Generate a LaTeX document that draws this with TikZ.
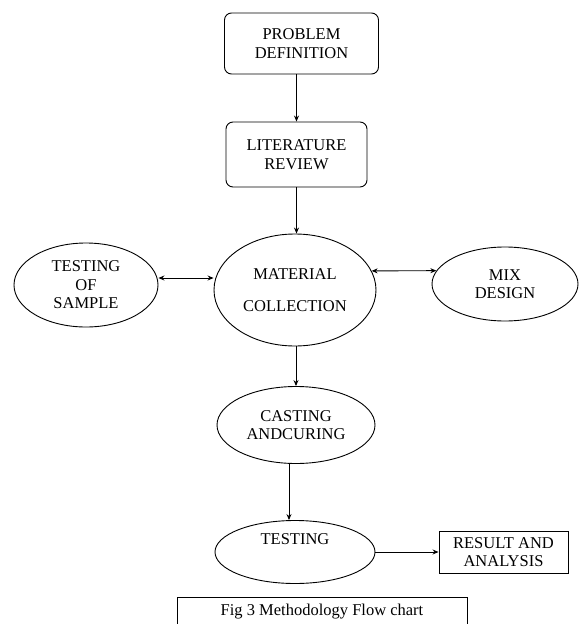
\documentclass[tikz,border=0pt]{standalone}
\usepackage{fontspec}
\setmainfont{Liberation Serif}
\usetikzlibrary{arrows.meta,shapes.geometric}
\tikzset{
  stepbox/.style={draw, rounded corners=7pt, line width=0.9pt, align=center, inner sep=0pt},
  oval/.style={draw, ellipse, line width=0.9pt, align=center, inner sep=0pt},
  flow/.style={line width=0.9pt, -{Stealth[length=6pt,width=5pt]}},
  both/.style={line width=0.9pt, {Stealth[length=6pt,width=5pt]}-{Stealth[length=6pt,width=5pt]}}
}
\begin{document}
\begin{tikzpicture}[x=1pt, y=-1pt, font=\fontsize{16.5}{18.5}\selectfont]
			%%%%% START %%%%%
			\useasboundingbox (0,0) rectangle (579,624);
			
			\node[stepbox, minimum width=154pt, minimum height=61pt] (prob) at (301.5, 43.5) {PROBLEM\\DEFINITION};
			\node[stepbox, minimum width=141pt, minimum height=65pt] (lit) at (296.5, 154.5) {LITERATURE\\REVIEW};
			
			\node[oval, minimum width=162pt, minimum height=112pt] (mat) at (295, 290) {MATERIAL\\[14pt]COLLECTION};
			\node[oval, minimum width=144pt, minimum height=84pt] (sample) at (86, 285) {TESTING\\OF\\SAMPLE};
			\node[oval, minimum width=146pt, minimum height=74pt] (mix) at (505, 284) {MIX\\DESIGN};
			
			\node[oval, minimum width=158pt, minimum height=77pt] (cast) at (296, 425) {CASTING\\ANDCURING};
			\node[oval, minimum width=160pt, minimum height=63pt] (test) at (295, 552) {TESTING\\[8pt]};
			
			\node[draw, line width=0.9pt, align=center, inner sep=0pt, minimum width=129pt, minimum height=42pt] (res) at (503.5, 552) {RESULT AND\\ANALYSIS};
			
			\node[draw, line width=0.9pt, inner sep=0pt, minimum width=290pt, minimum height=30pt, font=\fontsize{16.5}{18}\selectfont] (cap) at (322, 612) {Fig 3 Methodology Flow chart};
			
			% connectors
			\draw[flow] (prob.south -| lit.north) -- (lit.north);
			\draw[flow] (lit.south) -- (lit.south |- mat.north);
			\draw[both] (sample.east |- 0,278) -- (mat.west |- 0,278);
			\draw[both] (mat.14) -- (mix.169);
			\draw[flow] ([xshift=1pt]mat.south) -- (cast.north);
			\draw[flow] ([xshift=-7pt]cast.south) -- ([xshift=-6pt]test.north);
			\draw[flow] (test.east) -- (test.east -| res.west);
			
			%%%%% END %%%%%
\end{tikzpicture}
\end{document}
